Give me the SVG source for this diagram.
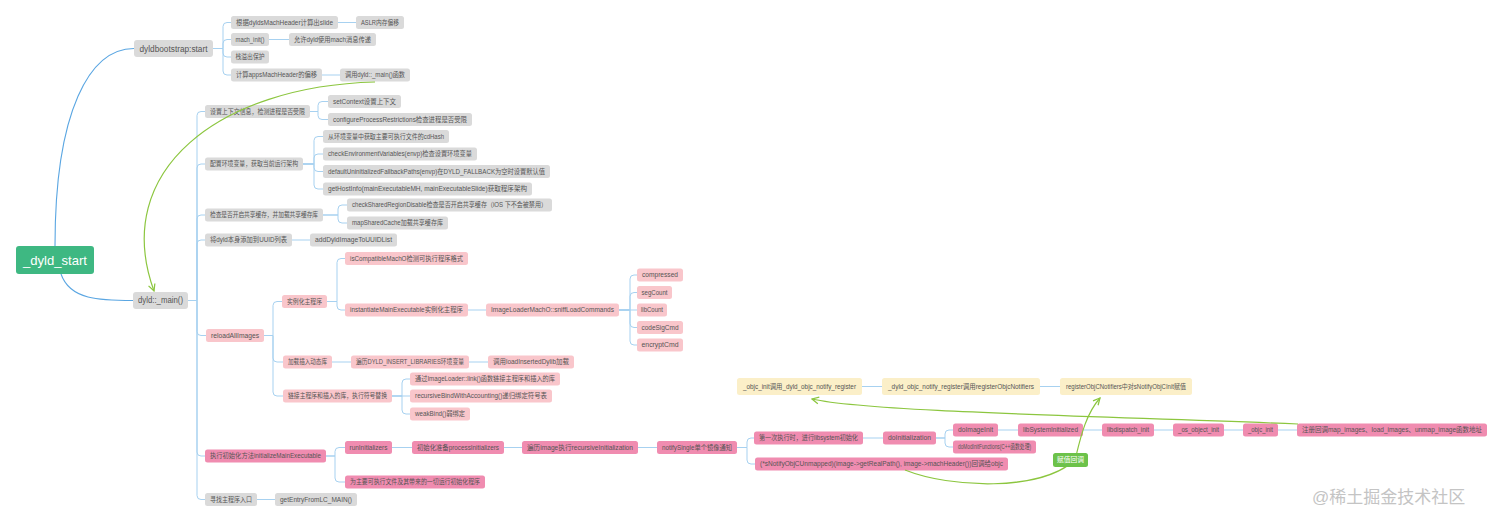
<svg xmlns="http://www.w3.org/2000/svg" width="1512" height="523" viewBox="0 0 1512 523">
<style>
text{font-family:"Liberation Sans","Noto Sans CJK SC",sans-serif;font-size:6.6px;fill:#555;text-anchor:middle}
.g rect{fill:#dadada}
.p rect{fill:#f9c6cb}
.m rect{fill:#f08cb0}
.y rect{fill:#fbefc8}
.root rect{fill:#3eb882}
.root text{fill:#fff;font-size:13.5px}
.big text{font-size:8.5px}
.c path{fill:none;stroke:#a7d1f0;stroke-width:1}
.mc path{fill:none;stroke:#5aa6e2;stroke-width:1.1}
.rel path{fill:none;stroke:#8cc63f;stroke-width:1.2}
.lbl rect{fill:#6cc24a}
.lbl text{fill:#fff}
.wm{font-size:17px;fill:#c4c4c4;text-anchor:start}
</style>
<defs>
<marker id="ga" viewBox="0 0 10 10" refX="9" refY="5" markerWidth="7" markerHeight="7" orient="auto"><path d="M1 1L9 5L1 9" fill="none" stroke="#8cc63f" stroke-width="1.5"/></marker>
</defs>
<rect width="1512" height="523" fill="#fff"/>

<g class="mc">
<path d="M55 246C55 110 90 48.5 134 48.5"/>
<path d="M61 274C70 300 100 300.5 133 300.5"/>
</g>

<g class="c">
<path d="M213 48.5H223V26.5Q223 22.5 227 22.5H231"/>
<path d="M213 48.5H223V43.5Q223 39.5 227 39.5H231"/>
<path d="M213 48.5H223V53Q223 57 227 57H231"/>
<path d="M213 48.5H223V71Q223 75 227 75H231"/>
<path d="M338 22.5H356M269 39.5H289M322 75H340"/>
<path d="M188 300.5H197V115.5Q197 111.5 201 111.5H205"/>
<path d="M188 300.5H197V168Q197 164 201 164H205"/>
<path d="M188 300.5H197V219Q197 215 201 215H205"/>
<path d="M188 300.5H197V244Q197 240 201 240H205"/>
<path d="M188 300.5H197V331.5Q197 335.5 201 335.5H206"/>
<path d="M188 300.5H197V452Q197 456 201 456H205"/>
<path d="M188 300.5H197V495.5Q197 499.5 201 499.5H205"/>
<path d="M310 111.5H318V105.5Q318 101.5 322 101.5H328"/>
<path d="M310 111.5H318V115.5Q318 119.5 322 119.5H328"/>
<path d="M303 164H314V140.5Q314 136.5 318 136.5H323"/>
<path d="M303 164H314V158Q314 154 318 154H323"/>
<path d="M303 164H314V167.5Q314 171.5 318 171.5H323"/>
<path d="M303 164H314V185Q314 189 318 189H323"/>
<path d="M323 215H338V209Q338 205 342 205H347"/>
<path d="M323 215H338V219Q338 223 342 223H347"/>
<path d="M292 240H310"/>
<path d="M264 335.5H273V305.5Q273 301.5 277 301.5H282"/>
<path d="M264 335.5H273V358Q273 362 277 362H283"/>
<path d="M264 335.5H273V392Q273 396 277 396H283"/>
<path d="M327 301.5H337V262.5Q337 258.5 341 258.5H345"/>
<path d="M327 301.5H337V306Q337 310 341 310H345"/>
<path d="M468 310H486"/>
<path d="M619 310H630V279Q630 275 634 275H637"/>
<path d="M619 310H630V296.5Q630 292.5 634 292.5H637"/>
<path d="M619 310H637"/>
<path d="M619 310H630V323.5Q630 327.5 634 327.5H637"/>
<path d="M619 310H630V341Q630 345 634 345H637"/>
<path d="M332 362H351M469 362H488"/>
<path d="M392 396H402V383Q402 379 406 379H410"/>
<path d="M392 396H410"/>
<path d="M392 396H402V410Q402 414 406 414H410"/>
<path d="M326 456H335V451.5Q335 447.5 339 447.5H345"/>
<path d="M326 456H335V478Q335 482 339 482H345"/>
<path d="M392 447.5H412M504 447.5H522M638 447.5H657"/>
<path d="M737 447.5H747V442Q747 438 751 438H754"/>
<path d="M737 447.5H747V460Q747 464 751 464H755"/>
<path d="M863 438H883"/>
<path d="M936 438H945V434Q945 430 949 430H953"/>
<path d="M936 438H945V443Q945 447 949 447H953"/>
<path d="M998 430H1018M1083 430H1102M1154 430H1173M1224 430H1243M1278 430H1297"/>
<path d="M257 499.5H275"/>
<path d="M862 386.5H882M1040 386.5H1060"/>
</g>

<g id="n-root" class="root"><rect x="16" y="246" width="78" height="28" rx="3"/><text x="55" y="264.8" textLength="64" lengthAdjust="spacingAndGlyphs">_dyld_start</text></g>

<g id="n-bootstrap" class="g big"><rect x="134" y="40" width="79" height="17" rx="3"/><text x="173.5" y="51.5" textLength="68" lengthAdjust="spacingAndGlyphs">dyldbootstrap:start</text></g>
<g id="n-slide" class="g"><rect x="231" y="16" width="107" height="13" rx="2.5"/><text x="284.5" y="24.8" textLength="97" lengthAdjust="spacingAndGlyphs">根据dyldsMachHeader计算出slide</text></g>
<g id="n-aslr" class="g"><rect x="356" y="16" width="48" height="13" rx="2.5"/><text x="380" y="24.8" textLength="38" lengthAdjust="spacingAndGlyphs">ASLR内存偏移</text></g>
<g id="n-machinit" class="g"><rect x="231" y="33" width="38" height="13" rx="2.5"/><text x="250" y="41.8" textLength="29" lengthAdjust="spacingAndGlyphs">mach_init()</text></g>
<g id="n-machmsg" class="g"><rect x="289" y="33" width="87" height="13" rx="2.5"/><text x="332.5" y="41.8" textLength="77" lengthAdjust="spacingAndGlyphs">允许dyld使用mach消息传递</text></g>
<g id="n-stack" class="g"><rect x="231" y="50.5" width="38" height="13" rx="2.5"/><text x="250" y="59.3" textLength="29" lengthAdjust="spacingAndGlyphs">栈溢出保护</text></g>
<g id="n-apps" class="g"><rect x="231" y="68.5" width="91" height="13" rx="2.5"/><text x="276.5" y="77.3" textLength="81" lengthAdjust="spacingAndGlyphs">计算appsMachHeader的偏移</text></g>
<g id="n-callmain" class="g"><rect x="340" y="68.5" width="70" height="13" rx="2.5"/><text x="375" y="77.3" textLength="60" lengthAdjust="spacingAndGlyphs">调用dyld::_main()函数</text></g>

<g id="n-main" class="g big"><rect x="133" y="292" width="55" height="17" rx="3"/><text x="160.5" y="303.3" font-size="8" textLength="45" lengthAdjust="spacingAndGlyphs">dyld::_main()</text></g>

<g id="n-ctx" class="g"><rect x="205" y="105" width="105" height="13" rx="2.5"/><text x="257.5" y="113.8" textLength="95" lengthAdjust="spacingAndGlyphs">设置上下文信息，检测进程是否受限</text></g>
<g id="n-setctx" class="g"><rect x="328" y="95" width="73" height="13" rx="2.5"/><text x="364.5" y="103.8" textLength="63" lengthAdjust="spacingAndGlyphs">setContext设置上下文</text></g>
<g id="n-cfg" class="g"><rect x="328" y="113" width="144" height="13" rx="2.5"/><text x="400" y="121.8" textLength="134" lengthAdjust="spacingAndGlyphs">configureProcessRestrictions检查进程是否受限</text></g>

<g id="n-env" class="g"><rect x="205" y="157.5" width="98" height="13" rx="2.5"/><text x="254" y="166.3" textLength="88" lengthAdjust="spacingAndGlyphs">配置环境变量，获取当前运行架构</text></g>
<g id="n-cdhash" class="g"><rect x="323" y="130" width="126" height="13" rx="2.5"/><text x="386" y="138.8" textLength="116" lengthAdjust="spacingAndGlyphs">从环境变量中获取主要可执行文件的cdHash</text></g>
<g id="n-checkenv" class="g"><rect x="323" y="147.5" width="154" height="13" rx="2.5"/><text x="400" y="156.3" textLength="144" lengthAdjust="spacingAndGlyphs">checkEnvironmentVariables(envp)检查设置环境变量</text></g>
<g id="n-fallback" class="g"><rect x="323" y="165" width="227" height="13" rx="2.5"/><text x="436.5" y="173.8" textLength="217" lengthAdjust="spacingAndGlyphs">defaultUninitializedFallbackPaths(envp)在DYLD_FALLBACK为空时设置默认值</text></g>
<g id="n-hostinfo" class="g"><rect x="323" y="182.5" width="209" height="13" rx="2.5"/><text x="427.5" y="191.3" textLength="199" lengthAdjust="spacingAndGlyphs">getHostInfo(mainExecutableMH, mainExecutableSlide)获取程序架构</text></g>

<g id="n-shared" class="g"><rect x="205" y="208.5" width="118" height="13" rx="2.5"/><text x="264" y="217.3" textLength="108" lengthAdjust="spacingAndGlyphs">检查是否开启共享缓存，并加载共享缓存库</text></g>
<g id="n-checkshared" class="g"><rect x="347" y="198.5" width="205" height="13" rx="2.5"/><text x="449.5" y="207.3" textLength="195" lengthAdjust="spacingAndGlyphs">checkSharedRegionDisable检查是否开启共享缓存（iOS 下不会被禁用）</text></g>
<g id="n-mapshared" class="g"><rect x="347" y="216.5" width="101" height="13" rx="2.5"/><text x="397.5" y="225.3" textLength="91" lengthAdjust="spacingAndGlyphs">mapSharedCache加载共享缓存库</text></g>

<g id="n-uuid" class="g"><rect x="205" y="233.5" width="87" height="13" rx="2.5"/><text x="248.5" y="242.3" textLength="77" lengthAdjust="spacingAndGlyphs">将dyld本身添加到UUID列表</text></g>
<g id="n-adduuid" class="g"><rect x="310" y="233.5" width="87" height="13" rx="2.5"/><text x="353.5" y="242.3" textLength="77" lengthAdjust="spacingAndGlyphs">addDyldImageToUUIDList</text></g>

<g id="n-reload" class="p"><rect x="206" y="329" width="58" height="13" rx="2.5"/><text x="235" y="337.8" textLength="48" lengthAdjust="spacingAndGlyphs">reloadAllImages</text></g>
<g id="n-inst" class="p"><rect x="282" y="295" width="45" height="13" rx="2.5"/><text x="304.5" y="303.8" textLength="35" lengthAdjust="spacingAndGlyphs">实例化主程序</text></g>
<g id="n-compat" class="p"><rect x="345" y="252" width="123" height="13" rx="2.5"/><text x="406.5" y="260.8" textLength="113" lengthAdjust="spacingAndGlyphs">isCompatibleMachO检测可执行程序格式</text></g>
<g id="n-instmain" class="p"><rect x="345" y="303.5" width="123" height="13" rx="2.5"/><text x="406.5" y="312.3" textLength="113" lengthAdjust="spacingAndGlyphs">instantiateMainExecutable实例化主程序</text></g>
<g id="n-sniff" class="p"><rect x="486" y="303.5" width="133" height="13" rx="2.5"/><text x="552.5" y="312.3" textLength="123" lengthAdjust="spacingAndGlyphs">ImageLoaderMachO::sniffLoadCommands</text></g>
<g id="n-compressed" class="p"><rect x="637" y="268.5" width="46" height="13" rx="2.5"/><text x="660" y="277.3" textLength="36" lengthAdjust="spacingAndGlyphs">compressed</text></g>
<g id="n-segcount" class="p"><rect x="637" y="286" width="35" height="13" rx="2.5"/><text x="654.5" y="294.8" textLength="26" lengthAdjust="spacingAndGlyphs">segCount</text></g>
<g id="n-libcount" class="p"><rect x="637" y="303.5" width="30" height="13" rx="2.5"/><text x="652" y="312.3" textLength="22" lengthAdjust="spacingAndGlyphs">libCount</text></g>
<g id="n-codesig" class="p"><rect x="637" y="321" width="46" height="13" rx="2.5"/><text x="660" y="329.8" textLength="37" lengthAdjust="spacingAndGlyphs">codeSigCmd</text></g>
<g id="n-encrypt" class="p"><rect x="637" y="338.5" width="46" height="13" rx="2.5"/><text x="660" y="347.3" textLength="37" lengthAdjust="spacingAndGlyphs">encryptCmd</text></g>

<g id="n-insert" class="p"><rect x="283" y="355.5" width="49" height="13" rx="2.5"/><text x="307.5" y="364.3" textLength="39" lengthAdjust="spacingAndGlyphs">加载插入动态库</text></g>
<g id="n-insertenv" class="p"><rect x="351" y="355.5" width="118" height="13" rx="2.5"/><text x="410" y="364.3" textLength="108" lengthAdjust="spacingAndGlyphs">遍历DYLD_INSERT_LIBRARIES环境变量</text></g>
<g id="n-loadins" class="p"><rect x="488" y="355.5" width="86" height="13" rx="2.5"/><text x="531" y="364.3" textLength="76" lengthAdjust="spacingAndGlyphs">调用loadInsertedDylib加载</text></g>

<g id="n-link" class="p"><rect x="283" y="389.5" width="109" height="13" rx="2.5"/><text x="337.5" y="398.3" textLength="99" lengthAdjust="spacingAndGlyphs">链接主程序和插入的库，执行符号替换</text></g>
<g id="n-linkfn" class="p"><rect x="410" y="372.5" width="150" height="13" rx="2.5"/><text x="485" y="381.3" textLength="140" lengthAdjust="spacingAndGlyphs">通过ImageLoader::link()函数链接主程序和插入的库</text></g>
<g id="n-rbind" class="p"><rect x="410" y="389.5" width="142" height="13" rx="2.5"/><text x="481" y="398.3" textLength="132" lengthAdjust="spacingAndGlyphs">recursiveBindWithAccounting()递归绑定符号表</text></g>
<g id="n-weak" class="p"><rect x="410" y="407.5" width="60" height="13" rx="2.5"/><text x="440" y="416.3" textLength="50" lengthAdjust="spacingAndGlyphs">weakBind()弱绑定</text></g>

<g id="n-initmain" class="m"><rect x="205" y="449.5" width="121" height="13" rx="2.5"/><text x="265.5" y="458.3" textLength="111" lengthAdjust="spacingAndGlyphs">执行初始化方法initializeMainExecutable</text></g>
<g id="n-runinit" class="m"><rect x="345" y="441" width="47" height="13" rx="2.5"/><text x="368.5" y="449.8" textLength="38" lengthAdjust="spacingAndGlyphs">runInitializers</text></g>
<g id="n-procinit" class="m"><rect x="412" y="441" width="92" height="13" rx="2.5"/><text x="458" y="449.8" textLength="82" lengthAdjust="spacingAndGlyphs">初始化准备processInitializers</text></g>
<g id="n-recinit" class="m"><rect x="522" y="441" width="116" height="13" rx="2.5"/><text x="580" y="449.8" textLength="106" lengthAdjust="spacingAndGlyphs">遍历image执行recursiveInitialization</text></g>
<g id="n-notify" class="m"><rect x="657" y="441" width="80" height="13" rx="2.5"/><text x="697" y="449.8" textLength="70" lengthAdjust="spacingAndGlyphs">notifySingle单个镜像通知</text></g>
<g id="n-first" class="m"><rect x="754" y="431.5" width="109" height="13" rx="2.5"/><text x="808.5" y="440.3" textLength="99" lengthAdjust="spacingAndGlyphs">第一次执行时，进行libsystem初始化</text></g>
<g id="n-doinit" class="m"><rect x="883" y="431.5" width="53" height="13" rx="2.5"/><text x="909.5" y="440.3" textLength="43" lengthAdjust="spacingAndGlyphs">doInitialization</text></g>
<g id="n-doimg" class="m"><rect x="953" y="423.5" width="45" height="13" rx="2.5"/><text x="975.5" y="432.3" textLength="35" lengthAdjust="spacingAndGlyphs">doImageInit</text></g>
<g id="n-libsys" class="m"><rect x="1018" y="423.5" width="65" height="13" rx="2.5"/><text x="1050.5" y="432.3" textLength="55" lengthAdjust="spacingAndGlyphs">libSystemInitialized</text></g>
<g id="n-libdisp" class="m"><rect x="1102" y="423.5" width="52" height="13" rx="2.5"/><text x="1128" y="432.3" textLength="42" lengthAdjust="spacingAndGlyphs">libdispatch_init</text></g>
<g id="n-osobj" class="m"><rect x="1173" y="423.5" width="51" height="13" rx="2.5"/><text x="1198.5" y="432.3" textLength="41" lengthAdjust="spacingAndGlyphs">_os_object_init</text></g>
<g id="n-objcinit" class="m"><rect x="1243" y="423.5" width="35" height="13" rx="2.5"/><text x="1260.5" y="432.3" textLength="25" lengthAdjust="spacingAndGlyphs">_objc_init</text></g>
<g id="n-register" class="m"><rect x="1297" y="423.5" width="190" height="13" rx="2.5"/><text x="1392" y="432.3" textLength="180" lengthAdjust="spacingAndGlyphs">注册回调map_images、load_images、unmap_image函数地址</text></g>
<g id="n-domod" class="m"><rect x="953" y="440.5" width="83" height="13" rx="2.5"/><text x="994.5" y="449.3" textLength="73" lengthAdjust="spacingAndGlyphs">doModInitFunctions(C++函数处理)</text></g>
<g id="n-unmapped" class="m"><rect x="755" y="457.5" width="253" height="13" rx="2.5"/><text x="881.5" y="466.3" textLength="243" lengthAdjust="spacingAndGlyphs">(*sNotifyObjCUnmapped)(image-&gt;getRealPath(), image-&gt;machHeader())回调给objc</text></g>
<g id="n-runall" class="m"><rect x="345" y="475.5" width="140" height="13" rx="2.5"/><text x="415" y="484.3" textLength="130" lengthAdjust="spacingAndGlyphs">为主要可执行文件及其带来的一切运行初始化程序</text></g>

<g id="n-entry" class="g"><rect x="205" y="493" width="52" height="13" rx="2.5"/><text x="231" y="501.8" textLength="42" lengthAdjust="spacingAndGlyphs">寻找主程序入口</text></g>
<g id="n-lcmain" class="g"><rect x="275" y="493" width="82" height="13" rx="2.5"/><text x="316" y="501.8" textLength="72" lengthAdjust="spacingAndGlyphs">getEntryFromLC_MAIN()</text></g>

<g id="n-y1" class="y"><rect x="737" y="378" width="125" height="17" rx="2.5"/><text x="799.5" y="388.8" textLength="113" lengthAdjust="spacingAndGlyphs">_objc_init调用_dyld_objc_notify_register</text></g>
<g id="n-y2" class="y"><rect x="882" y="378" width="158" height="17" rx="2.5"/><text x="961" y="388.8" textLength="146" lengthAdjust="spacingAndGlyphs">_dyld_objc_notify_register调用registerObjcNotifiers</text></g>
<g id="n-y3" class="y"><rect x="1060" y="378" width="132" height="17" rx="2.5"/><text x="1126" y="388.8" textLength="120" lengthAdjust="spacingAndGlyphs">registerObjCNotifiers中对sNotifyObjCInit赋值</text></g>

<g class="rel">
<path d="M375 82C220 86 110 170 154 291" marker-end="url(#ga)"/>
<path d="M1298 424C1100 416 870 412 812 399" marker-end="url(#ga)"/>
<path d="M905 470C950 488 1040 492 1075 460C1080 440 1085 415 1100 398" marker-end="url(#ga)"/>
</g>
<g id="l-assign" class="lbl"><rect x="1053" y="453" width="35" height="14" rx="2.5"/><text x="1070.5" y="462.3" textLength="27" lengthAdjust="spacingAndGlyphs">赋值回调</text></g>

<text class="wm" x="1312" y="503">@稀土掘金技术社区</text>
</svg>
